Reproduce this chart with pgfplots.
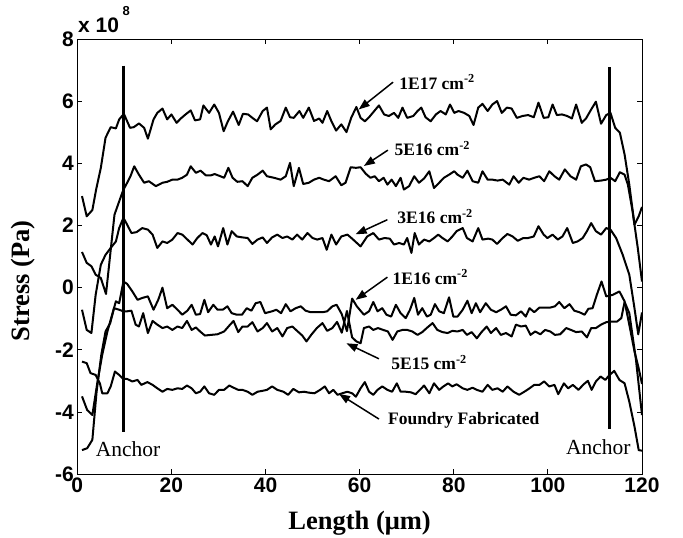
\documentclass[border=0pt]{standalone}
\usepackage{fontspec}
\setmainfont{Liberation Serif}
\setsansfont{Liberation Sans}
\usepackage{pgfplots}
\pgfplotsset{compat=1.18}
\usetikzlibrary{arrows.meta,calc}
\newcommand{\ticksfont}{\sffamily\bfseries\fontsize{21bp}{21bp}\selectfont}
\newcommand{\labelfont}{\rmfamily\bfseries\fontsize{26.5bp}{26.5bp}\selectfont}
\newcommand{\annfont}{\rmfamily\bfseries\fontsize{17.5bp}{17.5bp}\selectfont}
\newcommand{\anchorfont}{\rmfamily\fontsize{21.5bp}{21.5bp}\selectfont}
\tikzset{curve/.style={black, line width=2bp, line join=round, mark=none, solid}}
\begin{document}
\begin{tikzpicture}
\useasboundingbox (-77.3bp,-64bp) rectangle (605.7bp,474bp);
\begin{axis}[
  at={(0,0)}, anchor=south west,
  scale only axis, width=564.7bp, height=434.7bp,
  xmin=0, xmax=120, ymin=-6, ymax=8,
  xtick={0,20,...,120}, ytick={-6,-4,...,8},
  tick align=inside, major tick length=5bp,
  axis line style={line width=1bp},
  every tick/.style={black, line width=0.8bp},
  tick label style={font=\ticksfont},
  /pgf/number format/assume math mode=true,
  clip=false,
  xlabel={Length (μm)}, ylabel={Stress (Pa)},
  label style={font=\labelfont},
  xlabel style={at={(rel axis cs:0.5,0)}, anchor=base, yshift=-55bp},
  ylabel style={at={($(rel axis cs:0,0.444)+(-54.3bp,0)$)}, anchor=center},
]
% 1E17
\addplot[curve] coordinates {(1,2.95)(2,2.3)(3.2,2.5)(4,3.16)(5,3.86)(6,4.83)(7.1,5.17)(8.2,5.13)(8.9,5.42)(9.9,5.6)(11.2,5.15)(12,5.17)(13.1,5.29)(14.2,5.15)(15,4.8)(16.2,5.42)(17,5.63)(18.1,5.77)(19.1,5.42)(20,5.58)(21.1,5.31)(22,5.45)(23,5.58)(24.1,5.71)(25,5.39)(26.1,5.42)(26.8,5.87)(28,5.63)(29.1,5.9)(30.1,5.63)(31.1,5.04)(32,5.36)(33.1,5.67)(34.3,5.24)(35.2,5.6)(36.3,5.58)(37.2,5.47)(38.2,5.36)(39.4,5.69)(40.3,5.8)(41.1,5.1)(42.1,5.26)(43.2,5.37)(44.3,5.8)(45.2,5.49)(46,5.47)(47.2,5.69)(48,5.47)(49.2,5.8)(50.3,5.37)(51.4,5.45)(52.1,5.31)(53.1,5.69)(54,5.36)(55,5.06)(56.1,5.26)(57.2,5.01)(58.2,5.47)(59.3,5.82)(60.2,5.47)(61.1,5.36)(62,5.49)(63.1,5.69)(64.1,5.87)(65.2,5.58)(66.2,5.53)(67.3,5.63)(68.2,5.47)(69.1,5.8)(70.1,5.47)(71.4,5.53)(72.3,5.69)(73.1,5.8)(74,5.49)(75.1,5.36)(76.2,5.58)(77.2,5.69)(78.3,5.58)(79.2,5.9)(80.1,5.63)(81,5.69)(82.2,5.63)(83.3,5.53)(84.2,5.24)(85.2,5.8)(86.1,5.92)(87.2,5.69)(88.2,5.9)(89.2,6.01)(90.2,5.63)(91.3,5.8)(92.3,5.77)(93.4,5.47)(94.6,5.53)(95.8,5.56)(97,5.49)(98,5.96)(99.1,5.47)(100.1,5.49)(101,5.9)(101.9,5.56)(103,5.58)(104.1,5.53)(105.1,5.45)(106,5.9)(107.2,5.31)(108.1,5.45)(109.2,5.74)(110.2,5.99)(111.3,5.28)(112.4,5.56)(113.3,5.63)(114.3,5.15)(115.3,4.99)(116.3,4.29)(117.3,3.32)(118.4,2.03)(119.3,2.3)(120,2.6)};
% 5E16
\addplot[curve] coordinates {(1,1.15)(2,0.8)(3,0.69)(3.9,0.42)(5,0.31)(6.1,-0.2)(7.9,2.35)(8.9,2.78)(9.8,3.16)(10.6,3.38)(11.3,3.59)(12.1,3.91)(13.1,3.64)(14.2,3.38)(15.2,3.43)(16.7,3.27)(18.1,3.38)(19.1,3.41)(20.2,3.48)(21.3,3.48)(22.3,3.54)(23.3,3.64)(24.1,3.91)(25.2,3.7)(26.2,3.77)(27.3,3.62)(28.4,3.62)(29.2,3.66)(30.4,3.59)(31.2,3.54)(32.1,3.86)(33,3.54)(34,3.41)(35.1,3.43)(36.2,3.27)(37.2,3.54)(38.3,3.64)(39.4,3.77)(40.3,3.59)(41.8,3.54)(43.2,3.48)(44.3,3.59)(45.2,4.02)(46,3.27)(47.1,3.86)(48,3.34)(49.2,3.38)(50.3,3.48)(51.4,3.54)(52.4,3.48)(53.5,3.43)(54.9,3.59)(56.1,3.3)(57,3.38)(58.1,3.88)(59.2,3.86)(60.2,3.88)(61.3,3.67)(62.3,3.54)(63.2,3.59)(64.1,3.43)(65.1,3.54)(65.9,3.32)(66.8,3.48)(67.7,3.27)(68.7,3.54)(69.4,3.16)(70.5,3.27)(71.6,3.59)(72.6,3.38)(73.7,3.52)(74.8,3.75)(75.8,3.21)(76.9,3.38)(77.9,3.54)(79,3.64)(80.1,3.75)(80.8,3.64)(81.9,3.54)(82.9,3.77)(84,3.43)(85.2,3.38)(86.1,3.75)(87.2,3.48)(88.2,3.48)(89.3,3.45)(90.4,3.48)(91.8,3.32)(92.7,3.59)(93.8,3.38)(94.8,3.54)(96,3.48)(97.1,3.54)(98.2,3.59)(99.2,3.43)(100.3,3.75)(101.4,3.59)(102.4,3.48)(103.6,3.81)(104.8,3.59)(106,3.48)(107,3.91)(108.1,3.97)(109,3.88)(110,3.43)(111.3,3.45)(112.4,3.48)(113.3,3.54)(114.3,3.43)(115.3,3.72)(116.3,3.64)(117,3.32)(118,2.46)(119.1,1.28)(120,0.2)};
% 3E16
\addplot[curve] coordinates {(1,-0.71)(2,-1.36)(3,-1.46)(3.9,-0.23)(5,0.74)(6,1.06)(7.1,1.28)(8.2,1.49)(8.9,1.92)(9.8,2.25)(10.6,2.03)(11.5,1.76)(12.6,1.79)(13.8,1.92)(15,1.87)(16,1.71)(17,1.28)(18.1,1.49)(19.1,1.44)(20.2,1.55)(21.3,1.76)(22.3,1.71)(23.4,1.55)(24.5,1.39)(25.5,1.6)(26.6,1.76)(27.5,1.69)(28.4,1.39)(29.2,1.65)(29.9,1.33)(31,1.92)(31.9,1.39)(32.8,1.82)(33.9,1.65)(35.1,1.62)(36.2,1.6)(37.2,1.41)(38.3,1.55)(39.4,1.62)(40.3,1.44)(41.4,1.62)(42.5,1.71)(43.6,1.6)(44.6,1.65)(45.7,1.55)(46.7,1.71)(47.8,1.55)(48.9,1.76)(50,1.6)(51,1.55)(52.1,1.6)(53,1.22)(54,1.71)(55,1.39)(56.1,1.65)(57.4,1.71)(58.4,1.58)(60.2,1.33)(61.6,1.65)(62.9,1.76)(64.1,1.55)(65.3,1.6)(66.4,1.58)(67.3,1.39)(68.4,1.44)(69.4,1.39)(70.1,1.6)(71,1.12)(71.7,1.76)(72.6,1.39)(73.7,1.55)(74.8,1.49)(75.8,1.6)(76.7,1.71)(77.6,1.6)(78.7,1.49)(79.7,1.65)(80.6,1.82)(81.9,1.92)(82.8,1.6)(84,1.49)(85.2,1.92)(86.1,1.55)(87.3,1.58)(88.2,1.55)(89.2,1.41)(90.4,1.6)(91.4,1.73)(92.5,1.65)(93.6,1.51)(94.8,1.6)(95.8,1.6)(97,1.65)(98,1.98)(99.1,1.71)(99.9,1.6)(101,1.71)(102.1,1.55)(103.1,1.65)(104.1,1.92)(105.3,1.44)(106.3,1.49)(107.4,1.6)(108.3,1.82)(109.2,2.08)(110.2,1.82)(111.3,1.71)(112.4,1.92)(113.3,1.87)(114.5,1.6)(115.9,1.06)(117.3,0.42)(118.4,-0.66)(119.2,-1.5)(120,-0.8)};
% 1E16
\addplot[curve] coordinates {(1,-3.5)(2.1,-3.94)(3.2,-4.1)(4.3,-3.02)(5.3,-2.16)(6.4,-1.41)(7.4,-0.87)(8.2,-0.44)(8.9,-0.5)(9.8,0.2)(10.6,0.12)(11.7,-0.12)(12.8,-0.39)(13.8,-0.33)(15,-0.28)(16.2,-0.71)(17.2,-0.39)(18.1,0.0)(19.1,-0.66)(20.2,-0.55)(21.3,-0.71)(22.3,-0.87)(23.4,-0.74)(24.3,-0.55)(25.2,-0.87)(26.1,-0.85)(27,-0.39)(27.8,-0.79)(28.9,-0.55)(29.8,-0.71)(30.9,-0.71)(31.9,-0.6)(32.8,-0.82)(33.9,-0.87)(35,-0.87)(36,-0.66)(37,-0.74)(37.9,-0.5)(38.9,-0.46)(39.9,-0.82)(41.4,-0.76)(42.3,-0.71)(43.3,-0.82)(44.3,-0.53)(45.3,-0.76)(46.4,-0.66)(47.5,-0.6)(48.5,-0.74)(49.6,-0.79)(50.9,-0.79)(52.1,-0.79)(53.1,-0.76)(54.2,-0.6)(55.1,-0.55)(56.2,-0.85)(57.3,-1.4)(58.4,-0.35)(59.4,-0.6)(60.9,-0.87)(62,-0.76)(62.9,-0.46)(63.8,-0.76)(64.8,-0.66)(65.7,-0.87)(66.7,-0.93)(67.7,-0.55)(68.7,-0.82)(69.8,-0.98)(70.7,-0.71)(71.6,-0.33)(72.4,-0.87)(73.3,-0.66)(74.3,-0.93)(75.1,-0.87)(76,-0.53)(76.9,-0.76)(77.9,-0.82)(79,-0.31)(79.9,-0.93)(80.8,-0.93)(81.9,-0.71)(82.9,-0.42)(83.8,-0.82)(84.7,-0.5)(85.6,-0.79)(86.8,-0.5)(87.9,-0.71)(89,-0.79)(90,-0.71)(91.1,-0.6)(92.1,-0.87)(93.2,-0.89)(94.3,-0.76)(95.3,-0.93)(96.1,-0.66)(97.1,-0.79)(98.2,-0.64)(99.4,-0.64)(100.5,-0.64)(101.5,-0.6)(102.4,-0.46)(103.5,-0.66)(104.6,-0.53)(105.6,-0.74)(106.7,-0.79)(107.8,-0.87)(108.6,-0.68)(109.5,-0.66)(110.4,-0.23)(111.4,0.2)(112.4,-0.28)(113.8,-0.23)(115.2,-0.12)(116.3,-0.44)(117.3,-1.19)(118.4,-2.05)(119.3,-2.6)(120,-3.1)};
% 5E15
\addplot[curve] coordinates {(1,-5.23)(2.1,-5.17)(3.2,-4.9)(4.1,-3.35)(5.1,-2.16)(6,-1.41)(7,-1.14)(7.8,-0.66)(8.9,-0.71)(9.8,-0.76)(10.6,-0.76)(11.5,-0.74)(12.4,-1.19)(13.1,-1.25)(14,-0.82)(15,-1.46)(16,-1.07)(17,-1.19)(18.1,-1.3)(19.1,-1.25)(20.2,-1.36)(21.3,-1.25)(22.3,-1.3)(23.3,-1.07)(24.3,-1.36)(25.2,-1.28)(26.1,-1.41)(27.1,-1.54)(28.4,-1.52)(29.8,-1.5)(31.2,-1.41)(32.3,-1.22)(33.2,-1.07)(34.2,-1.43)(35.1,-1.25)(36.2,-1.25)(37.2,-1.11)(38.3,-1.41)(39.4,-1.3)(40.3,-1.14)(41.4,-1.41)(42.5,-1.3)(43.6,-1.57)(44.6,-1.3)(45.7,-1.25)(46.7,-1.39)(47.8,-1.54)(48.7,-1.73)(49.7,-1.52)(50.9,-1.3)(52.1,-1.14)(53.1,-1.39)(54.2,-1.3)(55.2,-1.1)(56.2,-1.45)(57.3,-0.75)(58.4,-1.6)(59.3,-1.73)(60.2,-1.79)(60.9,-1.3)(62,-1.25)(62.9,-1.36)(63.9,-1.3)(65,-1.36)(66,-1.41)(67,-1.68)(68,-1.41)(69.1,-1.36)(70.1,-1.36)(71.2,-1.41)(72.3,-1.52)(73.3,-1.43)(74.4,-1.28)(75.5,-1.14)(76.5,-1.36)(77.6,-1.43)(78.7,-1.46)(79.7,-1.39)(80.8,-1.41)(81.9,-1.36)(82.8,-1.52)(83.8,-1.43)(84.9,-1.63)(85.9,-1.43)(87,-1.25)(87.9,-1.46)(89,-1.3)(90,-1.52)(91.1,-1.46)(92.3,-1.57)(93.2,-1.19)(94.3,-1.25)(95.3,-1.22)(96.3,-1.52)(97.3,-1.41)(98.4,-1.5)(99.4,-1.36)(100.5,-1.41)(101.5,-1.52)(102.6,-1.5)(103.9,-1.3)(104.9,-1.36)(106,-1.43)(107.2,-1.41)(108.3,-1.6)(109.2,-1.3)(110.2,-1.3)(111.3,-1.19)(112.4,-1.11)(113.4,-1.09)(114.7,-1.09)(115.6,-0.98)(116.3,-0.46)(117.3,-0.82)(118.7,-2.3)(120,-4.1)};
% Foundry fabricated
\addplot[curve] coordinates {(1,-2.38)(2,-2.43)(2.8,-2.75)(3.9,-2.81)(4.8,-3.08)(5.3,-3.4)(6.4,-3.4)(7.1,-3.18)(8,-2.7)(8.9,-2.81)(9.8,-2.94)(10.6,-2.94)(11.7,-3.02)(12.8,-2.97)(13.6,-3.13)(14.9,-3.04)(16,-3.13)(17,-3.24)(18.1,-3.35)(19.1,-3.26)(20.2,-3.29)(21.3,-3.24)(22.3,-3.26)(23.3,-3.15)(24.3,-3.24)(25.2,-3.4)(26.1,-3.35)(27,-3.18)(28,-3.4)(29.1,-3.45)(30.1,-3.29)(31.2,-3.29)(32.3,-3.15)(33.2,-3.22)(34.2,-3.29)(35.1,-3.29)(36.2,-3.35)(37.2,-3.45)(38.3,-3.35)(39.4,-3.32)(40.3,-3.29)(41.4,-3.18)(42.5,-3.29)(43.8,-3.35)(44.8,-3.45)(45.9,-3.26)(47.1,-3.37)(48.2,-3.35)(49.2,-3.38)(50.4,-3.4)(51.6,-3.29)(52.6,-3.18)(53.5,-3.4)(54.4,-3.29)(55.3,-3.45)(56.3,-3.4)(57.4,-3.35)(58.4,-3.4)(59.2,-3.51)(60.2,-3.24)(61.1,-3.04)(62,-3.35)(62.9,-3.45)(63.8,-3.29)(64.8,-3.18)(65.9,-3.29)(66.9,-3.35)(67.9,-3.08)(68.7,-3.35)(69.8,-3.35)(70.9,-3.37)(71.9,-3.43)(72.8,-3.29)(73.7,-3.15)(74.8,-3.4)(75.8,-3.08)(76.9,-3.29)(77.8,-3.18)(78.8,-3.08)(79.7,-3.18)(80.6,-3.11)(81.9,-3.24)(82.9,-3.29)(84,-3.22)(84.9,-3.29)(86.1,-3.35)(87.2,-3.13)(88.2,-3.29)(89.3,-3.24)(90.4,-3.35)(91.4,-3.18)(92.7,-3.35)(93.9,-3.45)(95,-3.35)(96.1,-3.24)(97.1,-3.13)(98.2,-3.13)(99.2,-3.02)(100.3,-3.18)(101.4,-3.13)(102.2,-3.43)(103.4,-3.08)(104.3,-3.24)(105.3,-3.13)(106.5,-3.29)(107.6,-3.11)(108.5,-3.0)(109.3,-3.29)(110.2,-3.02)(111.2,-2.86)(112.2,-2.97)(113.1,-2.81)(114.1,-2.68)(115.2,-2.97)(116.3,-3.08)(117.3,-3.67)(118.4,-4.47)(119.3,-5.23)(120,-5.25)};
% anchor lines
\addplot[curve, line width=2.5bp] coordinates {(9.8,7.15)(9.8,-4.66)};
\addplot[curve, line width=2.5bp] coordinates {(113.1,7.1)(113.1,-4.55)};
% annotations
\node[anchor=west, font=\annfont, inner sep=0pt] at (axis cs:68.4,6.62) {1E17 cm\textsuperscript{-2}};
\draw[line width=1.5bp, -{Triangle[length=11bp,width=8bp]}] (axis cs:67.1,6.62) -- (axis cs:59.8,5.74);
\node[anchor=west, font=\annfont, inner sep=0pt] at (axis cs:67.4,4.48) {5E16 cm\textsuperscript{-2}};
\draw[line width=1.5bp, -{Triangle[length=11bp,width=8bp]}] (axis cs:66.0,4.43) -- (axis cs:60.9,3.92);
\node[anchor=west, font=\annfont, inner sep=0pt] at (axis cs:68.0,2.28) {3E16 cm\textsuperscript{-2}};
\draw[line width=1.5bp, -{Triangle[length=11bp,width=8bp]}] (axis cs:65.9,2.19) -- (axis cs:59.15,1.72);
\node[anchor=west, font=\annfont, inner sep=0pt] at (axis cs:66.96,0.34) {1E16 cm\textsuperscript{-2}};
\draw[line width=1.5bp, -{Triangle[length=11bp,width=8bp]}] (axis cs:65.9,0.34) -- (axis cs:59.15,-0.39);
\node[anchor=west, font=\annfont, inner sep=0pt] at (axis cs:66.7,-2.4) {5E15 cm\textsuperscript{-2}};
\draw[line width=1.5bp, -{Triangle[length=11bp,width=8bp]}] (axis cs:64.1,-2.29) -- (axis cs:57.2,-1.79);
\node[anchor=west, font=\annfont, inner sep=0pt] at (axis cs:66.0,-4.28) {Foundry Fabricated};
\draw[line width=1.5bp, -{Triangle[length=11bp,width=8bp]}] (axis cs:64.1,-4.23) -- (axis cs:55.6,-3.42);
\node[font=\anchorfont, inner sep=0pt] at (axis cs:10.8,-5.2) {Anchor};
\node[font=\anchorfont, inner sep=0pt] at (axis cs:110.7,-5.15) {Anchor};
% exponent
\node[anchor=base west, inner sep=0pt, font=\ticksfont, xshift=0.7bp, yshift=7.3bp] at (rel axis cs:0,1) {x 10\,\raisebox{17bp}{\fontsize{13bp}{13bp}\selectfont 8}};
\end{axis}
\end{tikzpicture}
\end{document}
